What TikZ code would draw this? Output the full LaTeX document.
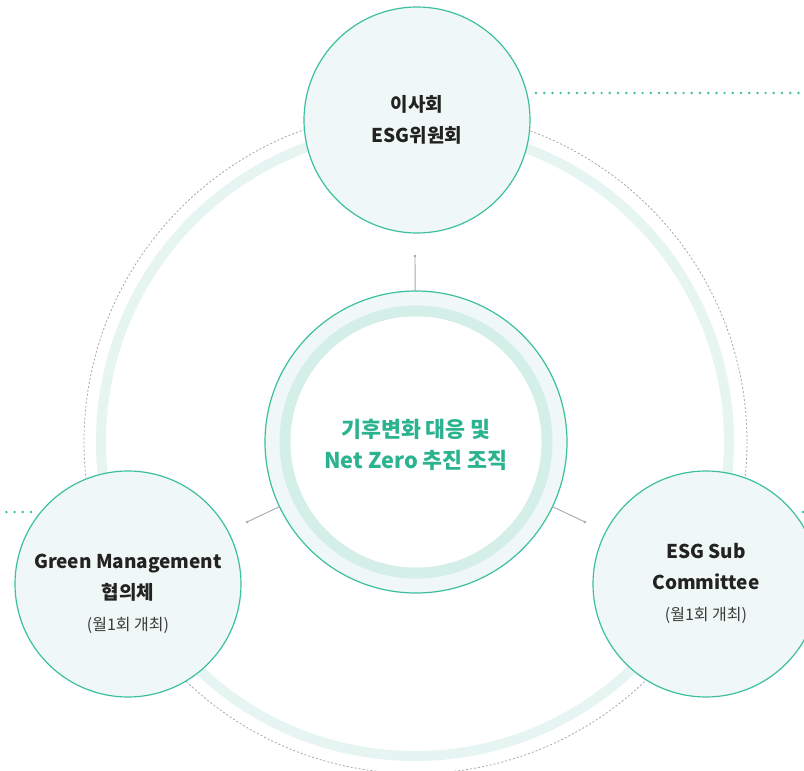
\documentclass[tikz,border=0pt]{standalone}
\usepackage{fontspec}
\setmainfont{Noto Sans CJK KR}
\definecolor{teal}{HTML}{3CBF9E}
\definecolor{tealtext}{HTML}{2BB38F}
\definecolor{satfill}{HTML}{EFF8F6}
\definecolor{bigband}{HTML}{E6F5F1}
\definecolor{ringband}{HTML}{D4EFE7}
\definecolor{dashgray}{HTML}{A8A8A8}
\definecolor{txt}{HTML}{222222}
\definecolor{subtxt}{HTML}{3A3A3A}
\newcommand{\subline}[1]{{\fontsize{16}{31}\selectfont\mdseries\color{subtxt}#1}}
\begin{document}
\begin{tikzpicture}[x=1pt,y=-1pt,
  sat/.style={circle, draw=teal, line width=1.2pt, fill=satfill, minimum size=226pt, inner sep=0pt, outer sep=0pt},
  hub/.style={circle, draw=teal, line width=1.2pt, fill=satfill, minimum size=302pt, inner sep=0pt, outer sep=0pt},
  sattext/.style={align=center, text=txt, font=\fontsize{19}{31}\selectfont\bfseries},
  hubtext/.style={align=center, text=tealtext, font=\fontsize{21.7}{31}\selectfont\bfseries},
  conn/.style={draw=dashgray, line width=0.9pt},
  enddot/.style={fill=dashgray},
  dots/.style={draw=teal, line width=2.7pt, line cap=round, dash pattern=on 0pt off 8.2pt}
]
\useasboundingbox (0,0) rectangle (804,771);
\clip (0,0) rectangle (804,771);
% big band ring and dashed circle
\draw[bigband, line width=10pt] (415,442) circle (314);
\draw[dashgray, line width=0.8pt, dash pattern=on 2pt off 2pt] (415.5,442) circle (331.5);
% connector end points
\coordinate (tdot) at (415,256);
\coordinate (ldot) at (247,522);
\coordinate (rdot) at (585,522);
% hub
\node[hub] (hub) at (416,442) {};
\draw[ringband, line width=11pt] (hub.center) circle (131);
\fill[white] (hub.center) circle (125.5);
\node[hubtext] (hubtxt) at (416,445) {기후변화 대응 및\\Net Zero 추진 조직};
% connectors
\draw[conn] (hub) -- (tdot);
\draw[conn] (hub) -- (ldot);
\draw[conn] (hub) -- (rdot);
\fill[enddot] (tdot) circle (1.4);
\fill[enddot] (ldot) circle (1.4);
\fill[enddot] (rdot) circle (1.4);
% satellites
\node[sat] (top) at (417,120) {};
\node[sat] (left) at (128,584) {};
\node[sat] (right) at (706,584) {};
\node[sattext] (toptxt) at (top.center) {이사회\\ESG위원회};
\node[sattext] (lefttxt) at (128,593.5) {Green Management\\협의체\\\subline{(월1회 개최)}};
\node[sattext] (righttxt) at (706,583) {ESG Sub\\Committee\\\subline{(월1회 개최)}};
% dotted leaders
\coordinate (dtr) at (812,93);
\coordinate (dl) at (0,512);
\coordinate (dr) at (830,512);
\draw[dots] (536,93) -- (dtr);
\draw[dots] (31,512) -- (dl);
\draw[dots] (803,512) -- (dr);
\end{tikzpicture}
\end{document}
